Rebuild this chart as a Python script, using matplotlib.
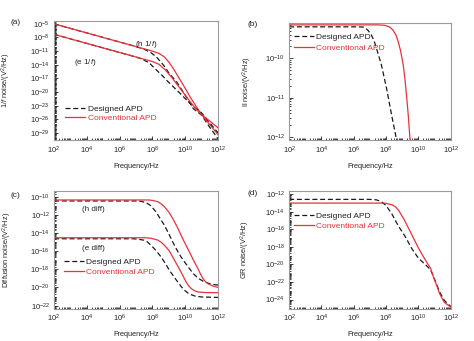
import numpy as np
import matplotlib
matplotlib.use('Agg')
import matplotlib.pyplot as plt
from matplotlib.ticker import FixedLocator, LogLocator, FuncFormatter, NullFormatter

plt.rcParams['font.family'] = ['Liberation Sans', 'DejaVu Sans']
plt.rcParams['mathtext.fontset'] = 'custom'
plt.rcParams['mathtext.rm'] = 'Liberation Sans'
plt.rcParams['mathtext.it'] = 'Liberation Sans:italic'
plt.rcParams['mathtext.bf'] = 'Liberation Sans:bold'

RED = '#e8313b'

# all values are log10 exponents: frequency (Hz) and noise (V^2/Hz)
# (a) 1/f noise, hole and electron parts
a_h_conv_f = [2, 7.0, 7.5, 8.0, 8.4, 8.7, 9.0, 9.3, 9.6, 10.0, 10.3, 10.6, 11.0, 11.5, 12.0]
a_h_conv_s = [-5, -10.0, -10.5, -11.0, -11.5, -12.2, -13.4, -15.0, -16.8, -19.2, -21.1, -22.8, -25.0, -27.2, -29.4]
a_h_des_f = [2, 7.0, 7.5, 7.9, 8.3, 8.7, 9.0, 9.5, 10.0, 10.5, 11.0, 11.5, 12.0]
a_h_des_s = [-5, -10.0, -10.6, -11.3, -12.5, -14.2, -15.8, -17.9, -20.7, -23.7, -25.1, -27.8, -30.3]
a_e_conv_f = [2, 7.0, 7.5, 8.0, 8.4, 8.8, 9.2, 9.6, 10.0, 10.4, 10.7, 11.0, 11.5, 12.0]
a_e_conv_s = [-7.3, -12.3, -12.8, -13.3, -13.9, -15.2, -16.9, -18.8, -20.7, -22.6, -23.9, -25.0, -26.4, -27.9]
a_e_des_f = [2, 7.0, 7.4, 7.8, 8.2, 8.6, 9.0, 9.4, 9.8, 10.2, 10.5, 11.0, 11.5, 12.0]
a_e_des_s = [-7.3, -12.3, -12.8, -13.6, -15.0, -16.4, -17.9, -19.3, -20.7, -22.2, -23.2, -24.6, -26.8, -29.0]

# (b) Il noise
b_conv_f = [2, 7.5, 7.9, 8.2, 8.4, 8.6, 8.75, 8.9, 9.06, 9.17, 9.28, 9.38, 9.48, 9.55]
b_conv_s = [-9.15, -9.15, -9.16, -9.2, -9.27, -9.4, -9.58, -9.82, -10.17, -10.55, -11.02, -11.5, -12.08, -12.5]
b_des_f = [2, 6.3, 6.67, 6.9, 7.09, 7.25, 7.4, 7.71, 8.03, 8.34, 8.65, 8.75]
b_des_s = [-9.2, -9.2, -9.21, -9.3, -9.41, -9.55, -9.74, -10.17, -10.77, -11.44, -12.08, -12.3]

# (c) diffusion noise
c_h_conv_f = [2, 7.8, 8.0, 8.31, 8.52, 8.72, 9.0, 9.23, 9.5, 9.74, 10.0, 10.25, 10.5, 10.77, 10.95, 11.08, 11.25, 11.39, 11.7, 12.0]
c_h_conv_s = [-10.37, -10.37, -10.42, -10.55, -10.78, -11.1, -11.7, -12.39, -13.3, -14.23, -15.2, -16.08, -17.0, -17.91, -18.6, -19.02, -19.4, -19.6, -19.85, -20.0]
c_h_des_f = [2, 7.0, 7.3, 7.6, 7.9, 8.21, 8.5, 8.72, 9.0, 9.23, 9.5, 9.74, 10.0, 10.25, 10.5, 10.8, 11.08, 11.5, 12.0]
c_h_des_s = [-10.48, -10.48, -10.52, -10.65, -11.0, -11.66, -12.5, -13.13, -14.1, -14.97, -15.9, -16.63, -17.3, -17.91, -18.5, -19.0, -19.3, -19.6, -19.75]
c_e_conv_f = [2, 7.6, 7.9, 8.31, 8.52, 8.72, 9.0, 9.23, 9.5, 9.74, 10.05, 10.2, 10.36, 10.55, 10.77, 11.2, 12.0]
c_e_conv_s = [-14.53, -14.53, -14.58, -14.78, -15.0, -15.34, -15.9, -16.63, -17.5, -18.29, -19.39, -19.8, -20.12, -20.35, -20.5, -20.56, -20.58]
c_e_des_f = [2, 6.8, 7.1, 7.49, 7.7, 7.9, 8.2, 8.52, 8.8, 9.03, 9.3, 9.54, 9.75, 9.95, 10.15, 10.36, 10.6, 11.0, 12.0]
c_e_des_s = [-14.64, -14.64, -14.68, -14.8, -15.0, -15.34, -15.9, -16.63, -17.4, -18.1, -18.8, -19.39, -19.9, -20.3, -20.6, -20.8, -20.95, -21.05, -21.1]

# (d) GR noise
d_conv_f = [2, 7.9, 8.34, 8.55, 8.75, 9.09, 9.59, 10.0, 10.42, 10.75, 10.96, 11.17, 11.3, 11.59, 11.8, 12.0]
d_conv_s = [-13.02, -13.02, -13.2, -13.4, -13.78, -14.8, -16.63, -18.14, -19.47, -20.45, -21.6, -22.6, -23.3, -24.3, -24.6, -24.85]
d_des_f = [2, 7.0, 7.4, 7.7, 8.0, 8.34, 8.75, 9.17, 9.59, 10.0, 10.42, 10.75, 11.0, 11.3, 11.6, 12.0]
d_des_s = [-12.6, -12.6, -12.65, -12.85, -13.3, -14.2, -15.6, -16.8, -18.2, -19.3, -20.0, -20.6, -21.7, -23.1, -24.1, -24.8]

xticks_exp = [2, 4, 6, 8, 10, 12]


def pw(v):
    return 10.0 ** np.array(v)


def setup(ax, ylim, yticks, ylabel, ylab_x):
    ax.set_xscale('log')
    ax.set_yscale('log')
    ax.set_xlim(1e2, 1e12)
    ax.set_ylim(10.0 ** ylim[0], 10.0 ** ylim[1])
    ax.xaxis.set_major_locator(FixedLocator(pw(xticks_exp)))
    ax.yaxis.set_major_locator(FixedLocator(pw(yticks)))
    fmt = FuncFormatter(lambda v, p: r'$10^{%d}$' % int(round(np.log10(v))))
    ax.xaxis.set_major_formatter(fmt)
    ax.yaxis.set_major_formatter(fmt)
    ax.xaxis.set_minor_locator(LogLocator(base=10, subs=np.arange(2, 10), numticks=1000))
    ax.yaxis.set_minor_locator(LogLocator(base=10, subs=np.arange(1, 10), numticks=1000))
    ax.xaxis.set_minor_formatter(NullFormatter())
    ax.yaxis.set_minor_formatter(NullFormatter())
    ax.tick_params(which='both', direction='in', top=False, right=False,
                   labelsize=5.5, width=0.6, colors='#222222', pad=3)
    ax.tick_params(which='major', length=3)
    ax.tick_params(which='minor', length=1.5)
    for s in ax.spines.values():
        s.set_color('#9a9a9a')
        s.set_linewidth(0.8)
    ax.set_xlabel('Frequency/Hz', fontsize=5.3, color='#222222')
    ax.xaxis.set_label_coords(0.5, -0.19)
    ax.set_ylabel(ylabel, fontsize=5.3, color='#222222')
    ax.yaxis.set_label_coords(ylab_x, 0.5)


def legend(ax, x, y, spacing):
    leg = ax.legend(loc='upper left', bbox_to_anchor=(x, y), frameon=False, fontsize=6,
                    handlelength=2.4, handletextpad=0.3, borderpad=0, borderaxespad=0,
                    labelspacing=spacing)
    leg.get_texts()[0].set_color('#222222')
    leg.get_texts()[1].set_color(RED)


dash = (0, (4, 2.2))
lw = 0.9

fig = plt.figure(figsize=(4.74, 3.41), dpi=100)
ax_a = fig.add_axes([0.114, 0.589, 0.346, 0.349])
ax_b = fig.add_axes([0.610, 0.589, 0.341, 0.345])
ax_c = fig.add_axes([0.114, 0.095, 0.346, 0.346])
ax_d = fig.add_axes([0.610, 0.094, 0.341, 0.347])

# (a)
ax_a.plot(pw(a_h_des_f), pw(a_h_des_s), color='#1a1a1a', lw=lw, ls=dash, label='Designed APD')
ax_a.plot(pw(a_h_conv_f), pw(a_h_conv_s), color=RED, lw=lw, label='Conventional APD')
ax_a.plot(pw(a_e_des_f), pw(a_e_des_s), color='#1a1a1a', lw=lw, ls=dash)
ax_a.plot(pw(a_e_conv_f), pw(a_e_conv_s), color=RED, lw=lw)
setup(ax_a, (-30.6, -4.4), list(range(-5, -30, -3)), r'1/$f$ noise/(V$^2$/Hz)', -0.248)
ax_a.text(10 ** 7.65, 10 ** -9.6, r'(h 1/$f$)', fontsize=5.8, ha='center', va='center', color='#222222')
ax_a.text(10 ** 3.9, 10 ** -13.4, r'(e 1/$f$)', fontsize=5.8, ha='center', va='center', color='#222222')
legend(ax_a, 0.067, 0.294, 0.1)

# (b)
ax_b.plot(pw(b_des_f), pw(b_des_s), color='#1a1a1a', lw=lw, ls=dash, label='Designed APD')
ax_b.plot(pw(b_conv_f), pw(b_conv_s), color=RED, lw=lw, label='Conventional APD')
setup(ax_b, (-12.08, -9.09), [-10, -11, -12], r'Il noise/(V$^2$/Hz)', -0.219)
legend(ax_b, 0.029, 0.908, 0.35)

# (c)
ax_c.plot(pw(c_h_des_f), pw(c_h_des_s), color='#1a1a1a', lw=lw, ls=dash, label='Designed APD')
ax_c.plot(pw(c_h_conv_f), pw(c_h_conv_s), color=RED, lw=lw, label='Conventional APD')
ax_c.plot(pw(c_e_des_f), pw(c_e_des_s), color='#1a1a1a', lw=lw, ls=dash)
ax_c.plot(pw(c_e_conv_f), pw(c_e_conv_s), color=RED, lw=lw)
setup(ax_c, (-22.33, -9.34), list(range(-10, -23, -2)), r'Diffusion noise/(V$^2$/Hz)', -0.245)
ax_c.text(10 ** 4.42, 10 ** -11.47, '(h diff)', fontsize=5.8, ha='center', va='center', color='#222222')
ax_c.text(10 ** 4.42, 10 ** -15.7, '(e diff)', fontsize=5.8, ha='center', va='center', color='#222222')
legend(ax_c, 0.06, 0.431, 0.35)

# (d)
ax_d.plot(pw(d_des_f), pw(d_des_s), color='#1a1a1a', lw=lw, ls=dash, label='Designed APD')
ax_d.plot(pw(d_conv_f), pw(d_conv_s), color=RED, lw=lw, label='Conventional APD')
setup(ax_d, (-25.07, -11.6), list(range(-12, -25, -2)), r'GR noise/(V$^2$/Hz)', -0.231)
legend(ax_d, 0.027, 0.822, 0.35)

for lab, x, y in [('(a)', 0.032, 0.933), ('(b)', 0.532, 0.927),
                  ('(c)', 0.032, 0.428), ('(d)', 0.532, 0.434)]:
    fig.text(x, y, lab, fontsize=6, ha='center', va='center', color='#222222')

fig.savefig('out.png', dpi=100)
